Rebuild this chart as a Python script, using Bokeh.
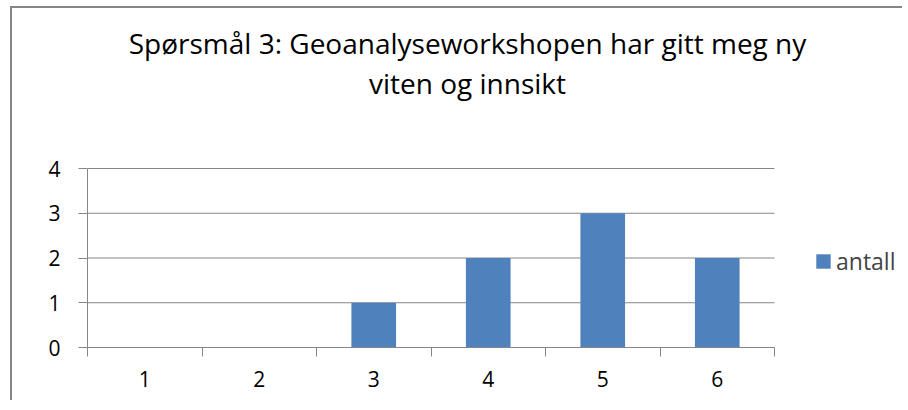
from bokeh.plotting import figure
from bokeh.models import (FixedTicker, Legend, LegendItem, Label,
                          ColumnDataSource, Range1d)
from bokeh.embed import file_html
from bokeh.resources import INLINE

# ---- data ----
categories = ["1", "2", "3", "4", "5", "6"]
antall = [0, 0, 1, 2, 3, 2]
y_ticks = [0, 1, 2, 3, 4]
title_lines = ["Spørsmål 3: Geoanalyseworkshopen har gitt meg ny", "viten og innsikt"]
series_name = "antall"

FONT = "Open Sans"
GRAY = "#868686"
BLUE = "#4F81BD"

# ---- layout (pixels) ----
W, H = 892, 394
L, B = 75, 55
PLOT_W, PLOT_H = 687, 179          # width / height of the value area
frame_w, frame_h = W - L, H - B

n = len(categories)
x_lo, x_hi = 0.5, n + 0.5
y_lo, y_hi = y_ticks[0], y_ticks[-1]
x_end = x_lo + (x_hi - x_lo) * frame_w / PLOT_W
y_end = y_lo + (y_hi - y_lo) * frame_h / PLOT_H

xpos = [i + 1 for i in range(n)]
src = ColumnDataSource(dict(x=xpos, top=antall, cat=categories))

p = figure(width=W, height=H, output_backend="svg", toolbar_location=None, title=None,
           x_range=Range1d(x_lo, x_end), y_range=Range1d(y_lo, y_end),
           min_border_left=L, min_border_right=0, min_border_top=0, min_border_bottom=B)
p.outline_line_color = None
p.xgrid.grid_line_color = None
p.ygrid.grid_line_color = None

# horizontal gridlines limited to the value area
grid_y = y_ticks[1:]
p.segment(x0=[x_lo] * len(grid_y), x1=[x_hi] * len(grid_y), y0=grid_y, y1=grid_y,
          line_color=GRAY, line_width=1)

r = p.vbar(x="x", top="top", width=0.39, bottom=0, source=src,
           fill_color=BLUE, line_color=None)

# y axis
p.yaxis.bounds = (y_lo, y_hi)
p.yaxis.ticker = FixedTicker(ticks=y_ticks, minor_ticks=[])
p.yaxis.axis_line_color = GRAY
p.yaxis.major_tick_line_color = GRAY
p.yaxis.major_tick_out = 9
p.yaxis.major_tick_in = 0
p.yaxis.minor_tick_line_color = None
p.yaxis.major_label_text_font = FONT
p.yaxis.major_label_text_font_size = "21px"
p.yaxis.major_label_text_color = "#000000"
p.yaxis.major_label_standoff = 18

# x axis: labels at category centres, ticks at boundaries
bounds = [i + 0.5 for i in range(n + 1)]
p.xaxis.bounds = (x_lo, x_hi)
p.xaxis.ticker = FixedTicker(ticks=xpos, minor_ticks=bounds)
p.xaxis.major_label_overrides = {x: c for x, c in zip(xpos, categories)}
p.xaxis.axis_line_color = GRAY
p.xaxis.major_tick_line_color = None
p.xaxis.major_tick_out = 0
p.xaxis.major_tick_in = 0
p.xaxis.minor_tick_line_color = GRAY
p.xaxis.minor_tick_out = 9
p.xaxis.minor_tick_in = 0
p.xaxis.major_label_text_font = FONT
p.xaxis.major_label_text_font_size = "21px"
p.xaxis.major_label_text_color = "#000000"
p.xaxis.major_label_standoff = 14

# title (screen units, relative to frame bottom-left)
for i, line in enumerate(title_lines):
    p.add_layout(Label(x=380, y=305 - 40 * i, x_units="screen", y_units="screen",
                       text=line, text_align="center", text_baseline="alphabetic",
                       text_font=FONT, text_font_size="28px", text_color="#000000"))

# chart border (left + top) via CSS
p.styles = {"border-left": "2px solid #868686", "border-top": "2px solid #868686",
            "margin-left": "10px", "margin-top": "6px", "overflow": "hidden"}

legend = Legend(items=[LegendItem(label=series_name, renderers=[r])],
                location=(727, 70), padding=0, margin=0, spacing=0,
                glyph_width=18, glyph_height=18, label_height=18, label_standoff=4,
                label_text_font=FONT, label_text_font_size="23px",
                border_line_color=None, background_fill_alpha=0)
p.add_layout(legend)

open("out.html", "w").write(file_html(p, INLINE))
